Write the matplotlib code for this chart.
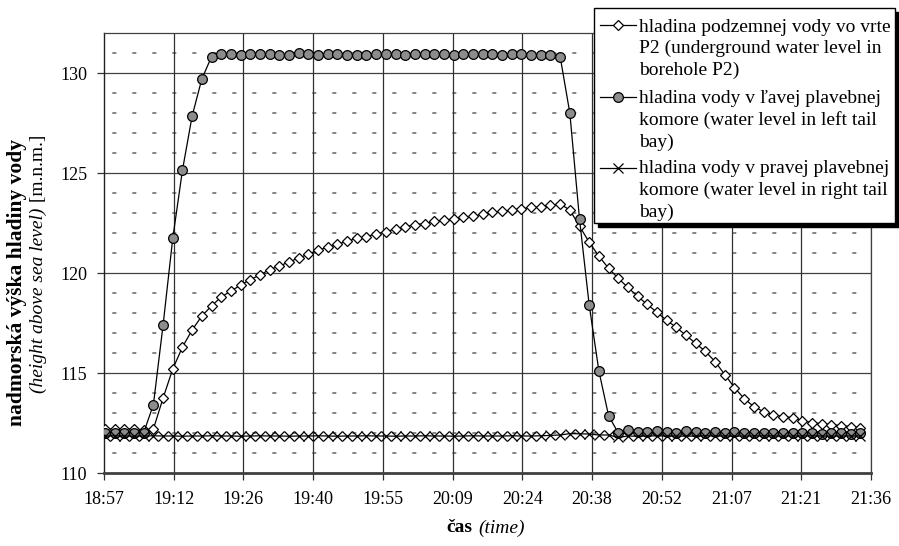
import numpy as np
import matplotlib
matplotlib.use("Agg")
import matplotlib.pyplot as plt
from matplotlib.lines import Line2D
from matplotlib.patches import Rectangle

plt.rcParams['font.family'] = ['Liberation Serif', 'DejaVu Serif']

# ---- data -------------------------------------------------------------
start_day = 0.79014          # first sample (fraction of day, ~18:57:48)
step_min = 2.0               # sampling interval in minutes

p2_level = [112.2, 112.2, 112.2, 112.2, 112.15, 112.2, 113.75, 115.2, 116.3, 117.15,
            117.85, 118.35, 118.8, 119.1, 119.39, 119.67, 119.9, 120.17, 120.35, 120.55,
            120.75, 120.94, 121.14, 121.28, 121.43, 121.59, 121.73, 121.82, 121.95, 122.07,
            122.2, 122.3, 122.42, 122.47, 122.58, 122.64, 122.71, 122.79, 122.84, 122.94,
            123.03, 123.08, 123.14, 123.21, 123.28, 123.31, 123.39, 123.45, 123.15, 122.34,
            121.54, 120.84, 120.24, 119.73, 119.28, 118.83, 118.43, 118.03, 117.63, 117.28,
            116.88, 116.48, 116.08, 115.57, 114.92, 114.27, 113.72, 113.32, 113.07, 112.92,
            112.82, 112.77, 112.62, 112.52, 112.47, 112.42, 112.37, 112.32, 112.27]

left_bay = [112.0, 111.98, 112.0, 111.98, 112.02, 113.42, 117.4, 121.74, 125.14, 127.85,
            129.7, 130.81, 130.95, 130.95, 130.92, 130.95, 130.95, 130.95, 130.90, 130.90,
            131.0, 130.95, 130.90, 130.97, 130.95, 130.92, 130.92, 130.92, 130.95, 130.93,
            130.95, 130.92, 130.95, 130.93, 130.95, 130.95, 130.92, 130.95, 130.93, 130.95,
            130.95, 130.92, 130.95, 130.93, 130.9, 130.92, 130.9, 130.82, 128.0, 122.7,
            118.4, 115.1, 112.87, 112.0, 112.15, 112.05, 112.05, 112.1, 112.05, 112.0,
            112.1, 112.05, 112.0, 112.05, 112.0, 112.05, 112.0, 111.98, 112.0, 112.02,
            111.98, 112.0, 111.98, 112.0, 111.97, 112.0, 111.98, 111.97, 111.98]

right_bay = [111.85, 111.86, 111.85, 111.84, 111.85, 111.86, 111.85, 111.85, 111.84, 111.85,
             111.85, 111.86, 111.85, 111.85, 111.84, 111.85, 111.86, 111.85, 111.85, 111.84,
             111.85, 111.85, 111.86, 111.85, 111.84, 111.85, 111.85, 111.86, 111.85, 111.85,
             111.84, 111.85, 111.85, 111.86, 111.85, 111.85, 111.84, 111.85, 111.86, 111.85,
             111.85, 111.85, 111.86, 111.85, 111.85, 111.86, 111.88, 111.9, 111.97, 111.96,
             111.95, 111.9, 111.9, 111.78, 111.85, 111.84, 111.85, 111.86, 111.85, 111.85,
             111.84, 111.85, 111.86, 111.85, 111.85, 111.84, 111.85, 111.85, 111.86, 111.85,
             111.84, 111.85, 111.85, 111.86, 111.85, 111.84, 111.85, 111.85, 111.86]

x_ticks = [0.79, 0.80, 0.81, 0.82, 0.83, 0.84, 0.85, 0.86, 0.87, 0.88, 0.89, 0.90]
x_tick_labels = ['18:57', '19:12', '19:26', '19:40', '19:55', '20:09',
                 '20:24', '20:38', '20:52', '21:07', '21:21', '21:36']
y_ticks = [110, 115, 120, 125, 130]

legend_lines = [['hladina podzemnej vody vo vrte', 'P2 (underground water level in', 'borehole P2)'],
                ['hladina vody v ľavej plavebnej', 'komore (water level in left tail', 'bay)'],
                ['hladina vody v pravej plavebnej', 'komore (water level in right tail', 'bay)']]

# ---- figure ------------------------------------------------------------
W, H = 899, 546
fig = plt.figure(figsize=(W / 100, H / 100), dpi=100)
ax = fig.add_axes([104 / W, 1 - 473 / H, (871 - 104) / W, (473 - 33) / H])

t = start_day + np.arange(len(p2_level)) * step_min / 1440.0

ax.set_xlim(0.79, 0.90)
ax.set_ylim(110, 132)

# grid: minor dashed horizontal every 1 m
for yv in range(111, 133):
    if yv % 5 != 0:
        ax.axhline(yv, color='#707070', lw=1.2, ls=(7, (2.4, 9.6)), zorder=0.5)
for yv in y_ticks[1:]:
    ax.axhline(yv, color='#404040', lw=0.9, zorder=0.6)
for xv in x_ticks[1:]:
    ax.axvline(xv, color='#303030', lw=0.9, zorder=0.6)

styles = [dict(marker='D', ms=5.6, mfc='white', mec='black', mew=0.9),
          dict(marker='o', ms=7, mfc='#8c8c8c', mec='black', mew=0.9),
          dict(marker='x', ms=6.5, mec='black', mew=0.9)]

for series, st in zip([p2_level, left_bay, right_bay], styles):
    ax.plot(t, series, color='black', lw=0.9, zorder=3, **st)

ax.set_xticks(x_ticks)
ax.set_xticklabels(x_tick_labels)
ax.set_yticks(y_ticks)
ax.set_yticklabels([str(v) for v in y_ticks])
ax.tick_params(axis='both', labelsize=13, length=5, width=0.9, color='#303030', direction='out')
ax.tick_params(axis='y', pad=7)
ax.tick_params(axis='x', pad=8)

for s in ['top', 'right']:
    ax.spines[s].set_color('#404040')
    ax.spines[s].set_linewidth(0.9)
ax.spines['left'].set_color('#202020')
ax.spines['left'].set_linewidth(1.0)
ax.spines['bottom'].set_color('#404040')
ax.spines['bottom'].set_linewidth(2.0)

# axis titles
fig.text(17 / W, 1 - 283 / H, 'nadmorská výška hladiny vody', rotation=90,
         fontsize=15.5, fontweight='bold', ha='center', va='center')
t1 = fig.text(38 / W, 1 - 135 / H, ' [m.n.m.]', rotation=90, fontsize=14,
              ha='center', va='top')
fig.canvas.draw()
bb = t1.get_window_extent()
fig.text(38 / W, bb.y0 / H, '(height above sea level)', rotation=90, fontsize=14,
         style='italic', ha='center', va='top')
fig.text(446 / W, 1 - 528 / H, 'čas', fontsize=14, fontweight='bold',
         ha='left', va='center')
fig.text(478 / W, 1 - 528 / H, '(time)', fontsize=14, style='italic',
         ha='left', va='center')

# legend (drawn manually to match the reference layout)
lx0, lx1, ly0, ly1 = 594, 895, 8, 223
fig.patches.append(Rectangle(((lx0 + 4) / W, 1 - (ly1 + 4) / H), (lx1 - lx0) / W,
                             (ly1 - ly0) / H, transform=fig.transFigure,
                             fc='black', ec='black', lw=1, zorder=9))
fig.patches.append(Rectangle((lx0 / W, 1 - ly1 / H), (lx1 - lx0) / W, (ly1 - ly0) / H,
                             transform=fig.transFigure, fc='white', ec='black',
                             lw=1, zorder=10))
handle_y = [25, 96.7, 168.3]
baselines = [[31.7, 53.3, 75], [103.3, 125, 146.7], [173, 195, 216.7]]
for hy, st, lines, bls in zip(handle_y, styles, legend_lines, baselines):
    fig.add_artist(Line2D([600 / W, 636 / W], [1 - hy / H, 1 - hy / H],
                          transform=fig.transFigure, color='black', lw=0.9, zorder=11))
    fig.add_artist(Line2D([618 / W], [1 - hy / H], transform=fig.transFigure,
                          ls='none', zorder=12, **st))
    for line, bl in zip(lines, bls):
        fig.text(639 / W, 1 - bl / H, line, fontsize=14, ha='left',
                 va='baseline', zorder=12)

fig.savefig('out.png', dpi=100)
